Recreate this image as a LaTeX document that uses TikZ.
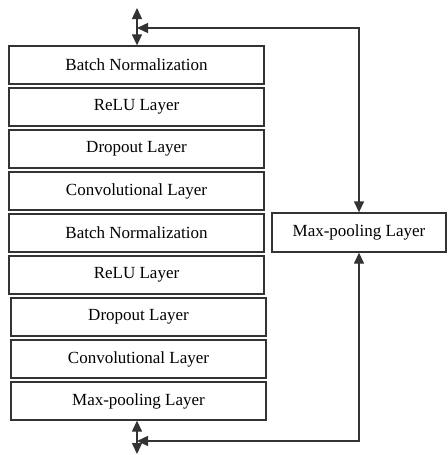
\documentclass[tikz,border=0pt]{standalone}
\usepackage{fontspec}
\setmainfont{Liberation Serif}
\usetikzlibrary{arrows.meta}
\begin{document}
\begin{tikzpicture}[x=1pt,y=-1pt,
  layer/.style={draw=black!80,line width=1.3pt,minimum width=255pt,minimum height=38pt,inner sep=0pt,font=\fontsize{17}{20}\selectfont},
  side/.style={layer,minimum width=174pt,minimum height=39pt},
  conn/.style={draw=black!80,line width=1.3pt,{Triangle[length=11pt,width=10pt]}-{Triangle[length=11pt,width=10pt]}}]
\useasboundingbox (0,0) rectangle (447,455);
\node[layer] (b1) at (136.5,65) {Batch Normalization};
\node[layer] (b2) at (136.5,107) {ReLU Layer};
\node[layer] (b3) at (136.5,149) {Dropout Layer};
\node[layer] (b4) at (136.5,191) {Convolutional Layer};
\node[layer] (b5) at (136.5,233) {Batch Normalization};
\node[layer] (b6) at (136.5,275) {ReLU Layer};
\node[layer] (b7) at (138.5,317) {Dropout Layer};
\node[layer] (b8) at (138.5,359) {Convolutional Layer};
\node[layer] (b9) at (138.5,401) {Max-pooling Layer};
\node[side] (mp) at (359,232.5) {Max-pooling Layer};
\coordinate (tin) at (137,8);
\coordinate (tj) at (137,28);
\coordinate (bj) at (137,441);
\coordinate (bout) at (137,454);
\draw[conn] (tin) -- (b1.north -| tin);
\draw[conn] (tj) -| (mp.north);
\draw[conn] (b9.south -| bout) -- (bout);
\draw[conn] (bj) -| (mp.south);
\end{tikzpicture}
\end{document}
